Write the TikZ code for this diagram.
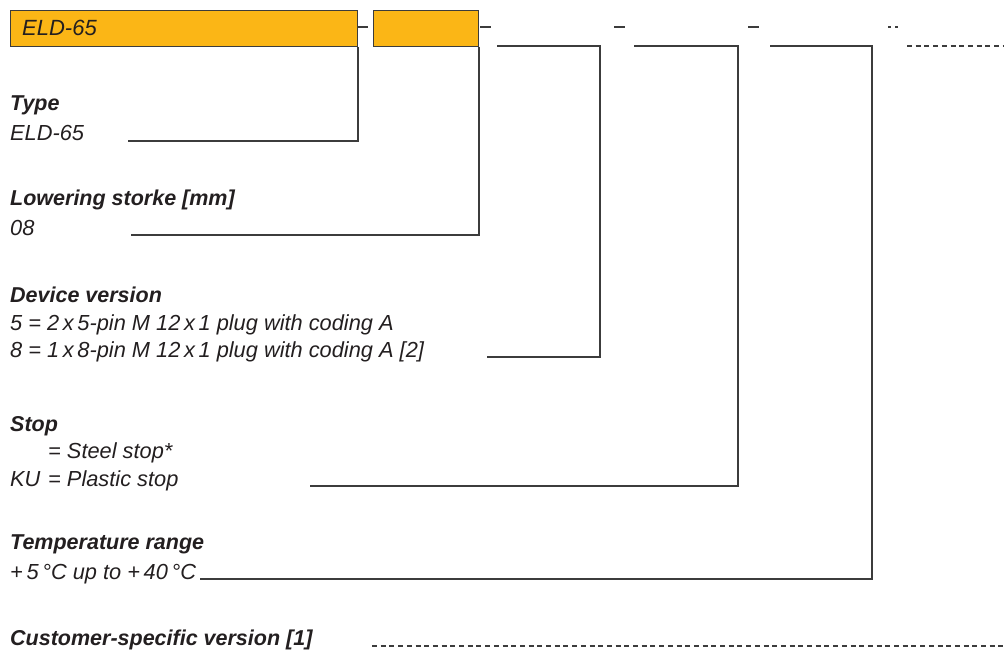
\documentclass[tikz,border=0pt]{standalone}
\usepackage{fontspec}
\setmainfont{Liberation Sans}
\definecolor{eldorange}{HTML}{FBB616}
\definecolor{eldline}{HTML}{3C3C3C}
\definecolor{eldtext}{HTML}{231F20}
\tikzset{
  codebox/.style={draw=eldline, fill=eldorange, line width=1pt, minimum height=36.5pt, inner sep=0pt, anchor=north west},
  heading/.style={anchor=base west, inner sep=0pt, font=\fontsize{21.5}{24}\selectfont\bfseries\itshape, text=eldtext},
  value/.style={anchor=base west, inner sep=0pt, font=\fontsize{21.8}{24}\selectfont\itshape, text=eldtext},
  conn/.style={draw=eldline, line width=1.2pt},
  sep/.style={draw=eldline, line width=1.2pt},
  dashconn/.style={draw=eldline, line width=1.2pt, dash pattern=on 5pt off 3.7pt}
}
\begin{document}
\begin{tikzpicture}[x=1pt,y=-1pt]
\useasboundingbox (0,0) rectangle (1004,650);

% code boxes
\node[codebox, minimum width=347pt] (box1) at (10,10) {};
\node[codebox, minimum width=105pt] (box2) at (373,10) {};
\node[value, font=\fontsize{22}{24}\selectfont\itshape] (boxtxt) at (22,36) {ELD-65};

% separators
\draw[sep] (357,27) -- (368,27);
\draw[sep] (480,27) -- (491,27);
\draw[sep] (614,27) -- (625,27);
\draw[sep] (748,27) -- (759,27);
\draw[draw=eldline, line width=1.2pt, dash pattern=on 3pt off 4pt] (888,27) -- (900,27);

% coordinates for connectors
\coordinate (s1) at (128,141);
\coordinate (s2) at (131,235);
\coordinate (s3) at (487,357);
\coordinate (c3) at (600,46);
\coordinate (e3) at (497,46);
\coordinate (s4) at (310,486);
\coordinate (c4) at (738,46);
\coordinate (e4) at (634,46);
\coordinate (s5) at (200,579);
\coordinate (c5) at (872,46);
\coordinate (e5) at (770,46);
\coordinate (d1s) at (907,46);
\coordinate (d1e) at (1004,46);
\coordinate (d2s) at (372,646);
\coordinate (d2e) at (1004,646);

% texts
\node[heading] (h1) at (10,111) {Type};
\node[value] (v1) at (10,141) {ELD-65};

\node[heading] (h2) at (10,205) {Lowering storke [mm]};
\node[value] (v2) at (10,235) {08};

\node[heading] (h3) at (10,302) {Device version};
\node[value] (v3a) at (10,330) {5 = 2\,x\,5-pin M 12\,x\,1 plug with coding A};
\node[value] (v3b) at (10,357) {8 = 1\,x\,8-pin M 12\,x\,1 plug with coding A [2]};

\node[heading] (h4) at (10,431) {Stop};
\node[value] (v4a) at (10,458) {\hspace*{38pt}= Steel stop*};
\node[value] (v4b) at (10,486) {\makebox[38pt][l]{KU}= Plastic stop};

\node[heading] (h5) at (10,549) {Temperature range};
\node[value] (v5) at (10,579) {+\,5\,°C up to +\,40\,°C};

\node[heading] (h6) at (10,645) {Customer-specific version [1]};

% connectors
\draw[conn] (s1) -| (box1.south east);
\draw[conn] (s2) -| (box2.south east);
\draw[conn] (s3) -| (c3) -- (e3);
\draw[conn] (s4) -| (c4) -- (e4);
\draw[conn] (s5) -| (c5) -- (e5);
\draw[dashconn] (d1s) -- (d1e);
\draw[dashconn] (d2s) -- (d2e);
\end{tikzpicture}
\end{document}
